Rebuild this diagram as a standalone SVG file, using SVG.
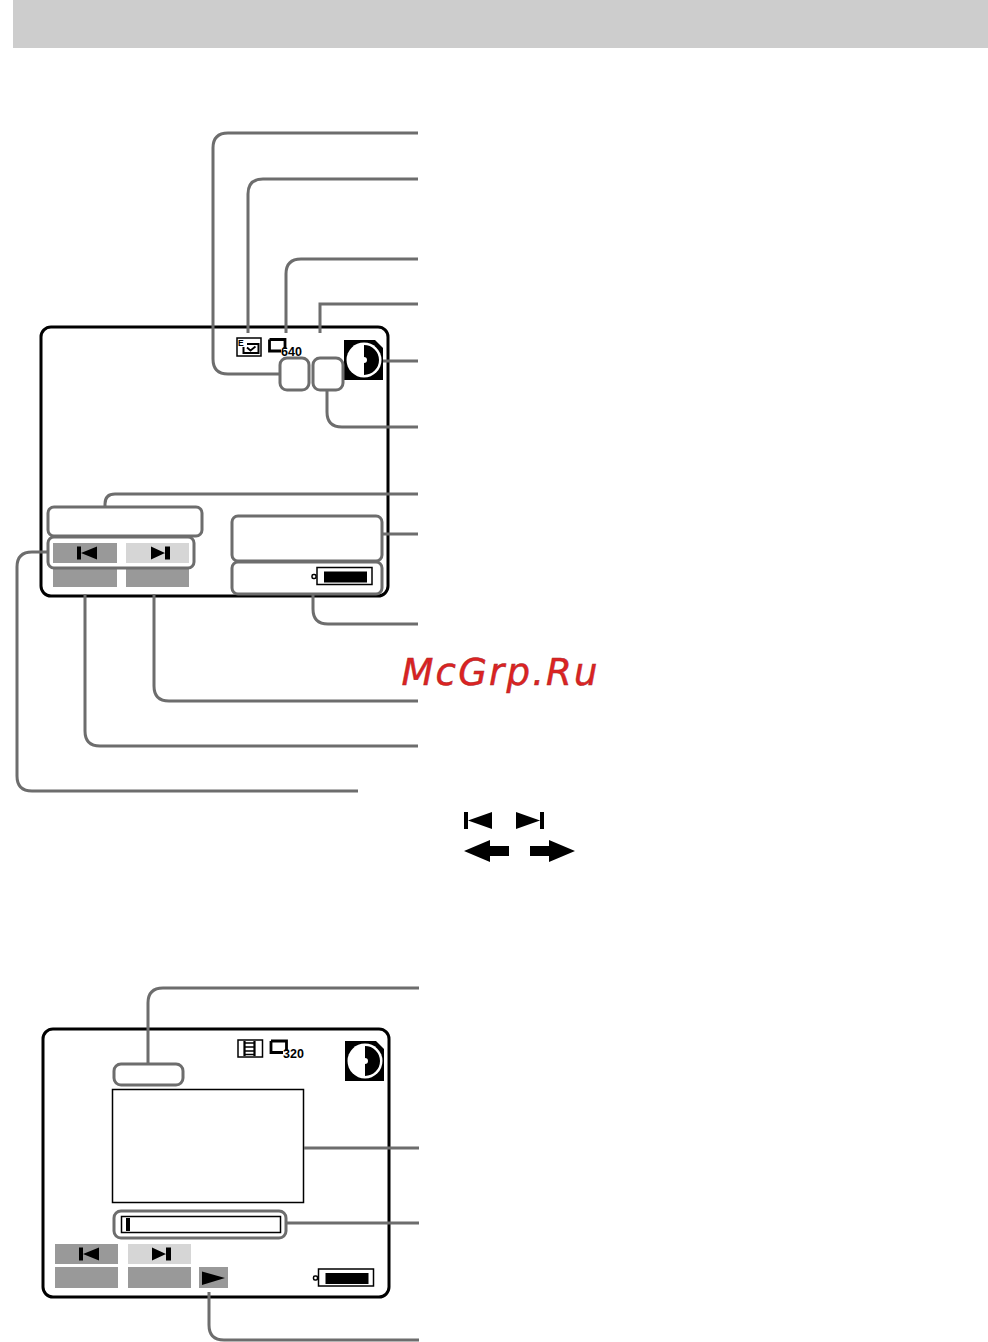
<svg xmlns="http://www.w3.org/2000/svg" width="988" height="1342" viewBox="0 0 988 1342">
<style>
.scr{fill:#fff;stroke:#000;stroke-width:3}
.ldr{fill:none;stroke:#6d6d6d;stroke-width:3}
.box{fill:none;stroke:#6d6d6d;stroke-width:3}
.dk{fill:#999}
.lt{fill:#d6d6d6}
.blk{fill:#000}
.thin{fill:#fff;stroke:#000;stroke-width:1.500}
.num{font-family:"Liberation Sans",Arial,sans-serif;font-weight:bold;font-size:12.500px;fill:#000}
</style>
<defs>
<g id="card"><path d="M0 0H31L39 8V40H0Z" class="blk"/><circle cx="20" cy="20" r="17.500" fill="#fff"/><path d="M20 5A15 15 0 0 1 20 35V23A3 3 0 0 0 20 17Z" class="blk"/></g>
<g id="batt"><rect x="0" y="0" width="55" height="17" fill="#fff" stroke="#000" stroke-width="1.500"/><rect x="7" y="4" width="43" height="11" class="blk"/><rect x="-5" y="7" width="4" height="4" rx="1.500" fill="#fff" stroke="#000" stroke-width="1.500"/></g>
<path id="prev" d="M0 0H4V13H0ZM4 6.500L20 0V13Z"/>
<path id="next" d="M0 0L14 6.500L0 13ZM14 0H19V13H14Z"/>
</defs>
<rect id="header" x="13" y="0" width="975" height="48" fill="#cdcdcd"/>

<g id="screen-1">
<rect class="scr" x="41" y="327" width="347" height="269" rx="10"/>
<rect class="thin" x="237" y="338" width="24" height="18"/>
<text x="238" y="346" font-family="Liberation Sans,sans-serif" font-size="8.500" font-weight="bold">E</text>
<path d="M243.500 347V353H258.500V344H247" fill="none" stroke="#000" stroke-width="2"/>
<path d="M247 347.500L250.500 350.500L255.500 346.500" fill="none" stroke="#000" stroke-width="1.800"/>
<path d="M269.500 339.500H285V349M269.500 339.500V351H281" fill="none" stroke="#000" stroke-width="2.800"/>
<text class="num" x="281" y="356">640</text>
<use href="#card" x="344" y="340"/>
<rect class="dk" x="53" y="543" width="64" height="20"/>
<rect class="lt" x="126" y="543" width="63" height="20"/>
<rect class="dk" x="53" y="567" width="64" height="20"/>
<rect class="dk" x="126" y="567" width="63" height="20"/>
<use href="#prev" x="77" y="546.500"/>
<use href="#next" x="151" y="546.500"/>
<use href="#batt" x="317" y="567.500"/>
</g>
<g id="highlight-boxes-1">
<rect class="box" x="280" y="358" width="29" height="32" rx="7"/>
<rect class="box" x="313" y="358" width="30" height="32" rx="7"/>
<rect class="box" x="48" y="507" width="154" height="29" rx="6"/>
<rect class="box" x="48" y="537" width="146" height="31" rx="6"/>
<rect class="box" x="232" y="516" width="150" height="45" rx="6"/>
<rect class="box" x="232" y="562" width="150" height="32" rx="6"/>
</g>

<g id="keys">
<path d="M464 812H468V829H464ZM468 820.500L492 812V829Z"/>
<path d="M516 812L540 820.500L516 829ZM540 812H544V829H540Z"/>
<path d="M464 851L490 840V846H509V856H490V862Z"/>
<path d="M575 851L549 840V846H530V856H549V862Z"/>
</g>

<g id="screen-2">
<rect class="scr" x="43" y="1029" width="346" height="268" rx="10"/>
<rect class="thin" x="238" y="1040" width="24.500" height="17"/>
<path d="M244.500 1041V1056M254.500 1041V1056" stroke="#000" stroke-width="2.200" fill="none"/>
<path d="M245 1043H254M245 1047H254M245 1051H254M245 1054.500H254" stroke="#000" stroke-width="1.500" fill="none"/>
<path d="M271 1041H286.500V1051M271 1041V1052.500H283" fill="none" stroke="#000" stroke-width="2.800"/>
<text class="num" x="283" y="1057.500">320</text>
<use href="#card" x="345" y="1041"/>
<rect class="thin" x="112.500" y="1089.500" width="191" height="113" stroke-width="1.200"/>
<rect class="thin" x="121.500" y="1216.500" width="159" height="16"/>
<rect class="blk" x="126" y="1218" width="4" height="13"/>
<rect class="dk" x="55" y="1244" width="63" height="20"/>
<rect class="lt" x="128" y="1244" width="63" height="20"/>
<rect class="dk" x="55" y="1267" width="63" height="21"/>
<rect class="dk" x="128" y="1267" width="63" height="21"/>
<rect class="dk" x="199" y="1267" width="29" height="21"/>
<path d="M202 1271.500L225 1278L202 1285Z"/>
<use href="#prev" x="79" y="1247.500"/>
<use href="#next" x="152" y="1247.500"/>
<use href="#batt" x="318.500" y="1269"/>
</g>
<g id="highlight-boxes-2">
<rect class="box" x="114" y="1064" width="69" height="21" rx="7"/>
<rect class="box" x="114" y="1211" width="172" height="27" rx="7"/>
</g>

<g id="connectors">
<path class="ldr" d="M280 374H228Q213 374 213 359V148Q213 133 228 133H418"/>
<path class="ldr" d="M248 333V194Q248 179 263 179H418"/>
<path class="ldr" d="M286 333V274Q286 259 301 259H418"/>
<path class="ldr" d="M320 333V304H418"/>
<path class="ldr" d="M383 361H418"/>
<path class="ldr" d="M327 390V412Q327 427 342 427H418"/>
<path class="ldr" d="M105 507V504Q105 494 115 494H418"/>
<path class="ldr" d="M382 534H418"/>
<path class="ldr" d="M313 594V609Q313 624 328 624H418"/>
<path class="ldr" d="M154 594V686Q154 701 169 701H418"/>
<path class="ldr" d="M85 594V731Q85 746 100 746H418"/>
<path class="ldr" d="M48 552H32Q17 552 17 567V776Q17 791 32 791H358"/>
<path class="ldr" d="M148 1064V1003Q148 988 163 988H419"/>
<path class="ldr" d="M304 1148H419"/>
<path class="ldr" d="M286 1223H419"/>
<path class="ldr" d="M209 1292V1325Q209 1340 224 1340H419"/>
</g>

<text id="watermark" x="401.500" y="685" font-family="DejaVu Sans,sans-serif" font-size="37" font-style="italic" letter-spacing="2.200" fill="#dd2222" stroke="#a82a2a" stroke-width="0.500">McGrp.Ru</text>
</svg>
